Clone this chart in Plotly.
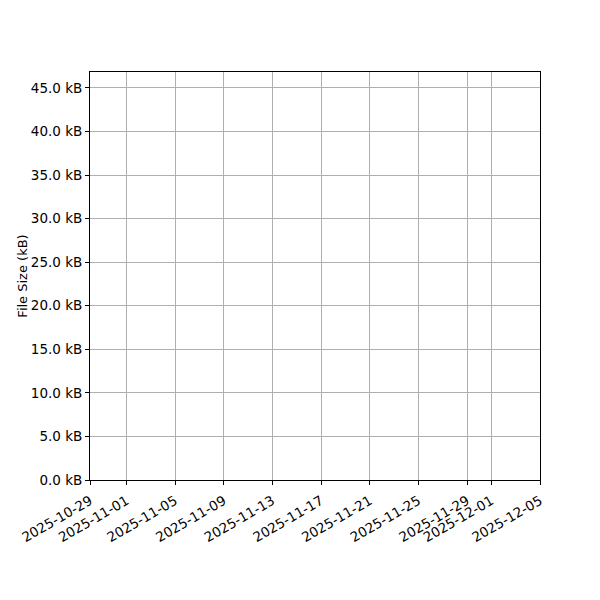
import plotly.graph_objects as go

# No samples were recorded in this window, so the series is empty.
dates = []
sizes_kb = []

x_ticks = ["2025-10-29", "2025-11-01", "2025-11-05", "2025-11-09", "2025-11-13",
           "2025-11-17", "2025-11-21", "2025-11-25", "2025-11-29", "2025-12-01",
           "2025-12-05"]
y_ticks = [0, 5, 10, 15, 20, 25, 30, 35, 40, 45]
y_labels = [f"{v:.1f} kB" for v in y_ticks]

fig = go.Figure(go.Scatter(x=dates, y=sizes_kb, mode="lines",
                           line=dict(color="#1f77b4", width=1.5)))

axis_style = dict(showline=True, linecolor="black", linewidth=1, mirror=True,
                  ticks="outside", ticklen=4, tickcolor="black", tickwidth=1,
                  showgrid=True, gridcolor="#b0b0b0", gridwidth=0.8,
                  zeroline=False, tickfont=dict(size=13.5, color="black"))

fig.update_xaxes(type="date", range=["2025-10-29", "2025-12-05"],
                 tickvals=x_ticks, ticktext=x_ticks, tickangle=-30,
                 ticklabelstandoff=3, **axis_style)
fig.update_yaxes(range=[0, 46.83], tickvals=y_ticks, ticktext=y_labels,
                 title=dict(text="File Size (kB)", font=dict(size=13, color="black"),
                            standoff=0),
                 **axis_style)

# page body adds an 8px offset, so the margins are shifted to compensate
fig.update_layout(width=600, height=600, showlegend=False,
                  plot_bgcolor="white", paper_bgcolor="white",
                  font=dict(family="DejaVu Sans", size=13, color="black"),
                  margin=dict(l=82, r=68, t=64, b=128, autoexpand=False))

fig.write_html("out.html")
